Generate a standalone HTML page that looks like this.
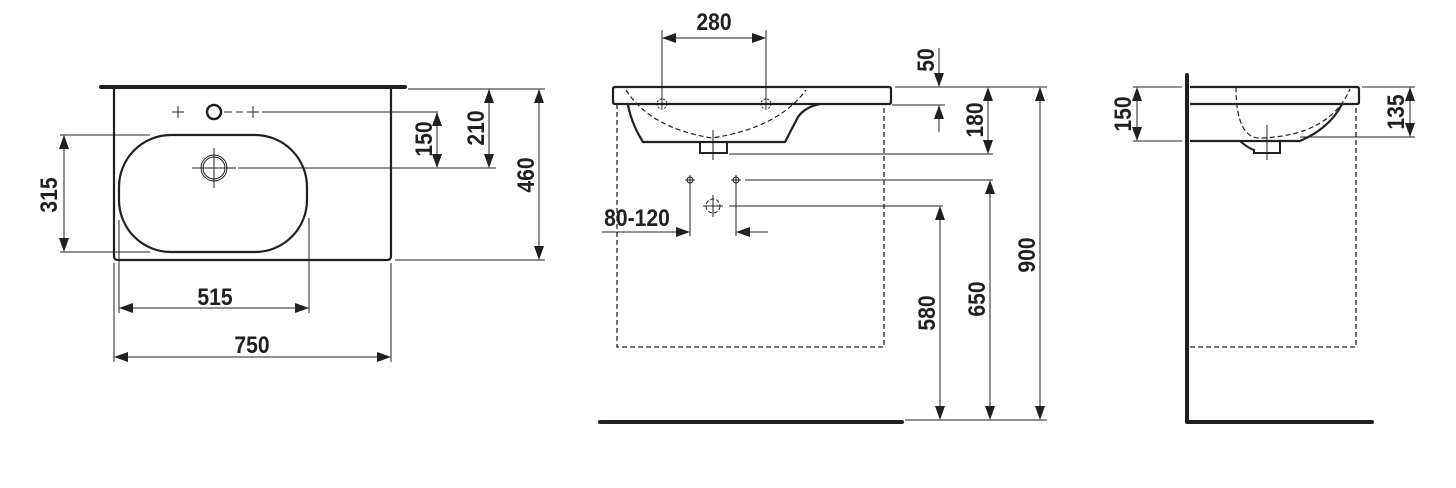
<!DOCTYPE html>
<html><head><meta charset="utf-8"><style>
html,body{margin:0;padding:0;background:#fff;}
svg{display:block;}
text{font-family:"Liberation Sans",sans-serif;font-weight:bold;font-size:24px;fill:#231f20;}
</style></head><body>
<svg width="1456" height="488" viewBox="0 0 1456 488" xmlns="http://www.w3.org/2000/svg">
<defs>
<marker id="a" markerUnits="userSpaceOnUse" markerWidth="14" markerHeight="10" refX="13" refY="5" orient="auto"><path d="M0,0 L14,5 L0,10 z" fill="#231f20"/></marker>
<marker id="b" markerUnits="userSpaceOnUse" markerWidth="14" markerHeight="10" refX="1" refY="5" orient="auto"><path d="M14,0 L0,5 L14,10 z" fill="#231f20"/></marker>
</defs>
<g stroke="#231f20" fill="none">
<!-- LEFT VIEW -->
<line x1="101" y1="87" x2="405" y2="87" stroke-width="4" stroke-linecap="round"/>
<path d="M114,88 V256 Q114,260 118,260 H387 Q391,260 391,256 V88" stroke-width="2.2"/>
<rect x="119" y="135" width="188" height="117" rx="52" ry="52" stroke-width="2.2"/>
<circle cx="214" cy="112" r="7" stroke-width="2.5"/>
<g stroke-width="1">
<line x1="172" y1="112" x2="184" y2="112"/><line x1="178" y1="106" x2="178" y2="118"/>
<line x1="247" y1="112" x2="259" y2="112"/><line x1="253" y1="106" x2="253" y2="118"/>
<line x1="224" y1="112" x2="232" y2="112"/><line x1="236" y1="112" x2="243" y2="112"/>
<line x1="262" y1="112" x2="438" y2="112"/>
<circle cx="214" cy="168" r="13"/><circle cx="214" cy="168" r="11"/>
<line x1="192" y1="168" x2="236" y2="168"/><line x1="214" y1="148" x2="214" y2="188"/>
<line x1="238" y1="168" x2="496" y2="168"/>
<line x1="60" y1="135" x2="150" y2="135"/><line x1="60" y1="252" x2="150" y2="252"/>
<line x1="64" y1="136" x2="64" y2="251" marker-start="url(#b)" marker-end="url(#a)"/>
<line x1="408" y1="89" x2="545" y2="89"/><line x1="395" y1="260" x2="545" y2="260"/>
<line x1="437" y1="113" x2="437" y2="167" marker-start="url(#b)" marker-end="url(#a)"/>
<line x1="489" y1="90" x2="489" y2="167" marker-start="url(#b)" marker-end="url(#a)"/>
<line x1="539" y1="90" x2="539" y2="259" marker-start="url(#b)" marker-end="url(#a)"/>
<line x1="119" y1="220" x2="119" y2="313"/><line x1="309" y1="218" x2="309" y2="313"/>
<line x1="120" y1="308" x2="308" y2="308" marker-start="url(#b)" marker-end="url(#a)"/>
<line x1="114" y1="263" x2="114" y2="362"/><line x1="391" y1="263" x2="391" y2="362"/>
<line x1="115" y1="357" x2="390" y2="357" marker-start="url(#b)" marker-end="url(#a)"/>
</g>
<!-- MIDDLE VIEW -->
<path d="M615,87 H889 Q891,87 891,89 V102 Q891,104 889,104 H615 Q613,104 613,102 V89 Q613,87 615,87 Z" stroke-width="2.2"/>
<path d="M628,105 Q632,125 643,142 H785 L798,117 Q805,107 820,104" stroke-width="2.2"/>
<path d="M700,143 V153 H727 V143" stroke-width="2"/>
<path d="M626,90 Q650,128 712,138 Q778,128 806,90" stroke-width="1.2" stroke-dasharray="5,3"/>
<path d="M617,104 V347 H884 V104" stroke-width="1.3" stroke-dasharray="5,3"/>
<line x1="600" y1="422" x2="902" y2="422" stroke-width="4" stroke-linecap="round"/>
<g stroke-width="1">
<line x1="662" y1="30" x2="662" y2="108"/><line x1="766" y1="30" x2="766" y2="108"/>
<line x1="663" y1="38" x2="765" y2="38" marker-start="url(#b)" marker-end="url(#a)"/>
<circle cx="662" cy="104" r="5" stroke-dasharray="2,1.5"/><circle cx="766" cy="104" r="5" stroke-dasharray="2,1.5"/>
<line x1="713" y1="130" x2="713" y2="160"/>
<line x1="895" y1="87" x2="1047" y2="87"/><line x1="892" y1="105" x2="945" y2="105"/>
<line x1="939" y1="48" x2="939" y2="86" marker-end="url(#a)"/>
<line x1="939" y1="132" x2="939" y2="106" marker-end="url(#a)"/>
<line x1="988" y1="88" x2="988" y2="153" marker-start="url(#b)" marker-end="url(#a)"/>
<line x1="729" y1="154" x2="993" y2="154"/>
<circle cx="690" cy="180" r="3"/><line x1="685" y1="180" x2="695" y2="180"/><line x1="690" y1="175" x2="690" y2="236"/>
<circle cx="736" cy="180" r="3"/><line x1="731" y1="180" x2="741" y2="180"/><line x1="736" y1="175" x2="736" y2="236"/>
<line x1="745" y1="180" x2="993" y2="180"/>
<circle cx="713" cy="206" r="7" stroke-dasharray="4,2"/><line x1="703" y1="206" x2="723" y2="206"/><line x1="713" y1="195" x2="713" y2="217"/>
<line x1="729" y1="206" x2="943" y2="206"/>
<line x1="602" y1="232" x2="689" y2="232" marker-end="url(#a)"/>
<line x1="768" y1="232" x2="737" y2="232" marker-end="url(#a)"/>
<line x1="905" y1="420" x2="1047" y2="420"/>
<line x1="940" y1="207" x2="940" y2="419" marker-start="url(#b)" marker-end="url(#a)"/>
<line x1="990" y1="181" x2="990" y2="419" marker-start="url(#b)" marker-end="url(#a)"/>
<line x1="1040" y1="88" x2="1040" y2="419" marker-start="url(#b)" marker-end="url(#a)"/>
</g>
<!-- RIGHT VIEW -->
<line x1="1187" y1="75" x2="1187" y2="421" stroke-width="4" stroke-linecap="round"/>
<line x1="1187" y1="422" x2="1372" y2="422" stroke-width="4" stroke-linecap="round"/>
<path d="M1190,87 H1357 Q1359,87 1359,89 V102 Q1359,104 1357,104 H1190" stroke-width="2.2"/>
<path d="M1190,141 H1300 Q1330,128 1342,104" stroke-width="2.2"/>
<path d="M1240,141 Q1248,148 1254,150 V153 H1280 V141" stroke-width="2"/>
<path d="M1236,87 Q1236,140 1262,138 Q1330,135 1350,89" stroke-width="1.2" stroke-dasharray="5,3"/>
<path d="M1190,347 H1356 V104" stroke-width="1.3" stroke-dasharray="5,3"/>
<g stroke-width="1">
<line x1="1267" y1="125" x2="1267" y2="160"/>
<line x1="1133" y1="87" x2="1182" y2="87"/><line x1="1133" y1="141" x2="1182" y2="141"/>
<line x1="1137" y1="88" x2="1137" y2="140" marker-start="url(#b)" marker-end="url(#a)"/>
<line x1="1362" y1="87" x2="1415" y2="87"/><line x1="1300" y1="137" x2="1415" y2="137"/>
<line x1="1410" y1="88" x2="1410" y2="136" marker-start="url(#b)" marker-end="url(#a)"/>
</g>
</g>
<!-- LABELS -->
<text transform="translate(215,305) scale(0.88,1)" text-anchor="middle">515</text>
<text transform="translate(252,353) scale(0.88,1)" text-anchor="middle">750</text>
<text transform="translate(57,195) rotate(-90) scale(0.88,1)" text-anchor="middle">315</text>
<text transform="translate(432,139) rotate(-90) scale(0.88,1)" text-anchor="middle">150</text>
<text transform="translate(484,128) rotate(-90) scale(0.88,1)" text-anchor="middle">210</text>
<text transform="translate(534,175) rotate(-90) scale(0.88,1)" text-anchor="middle">460</text>
<text transform="translate(714,30) scale(0.88,1)" text-anchor="middle">280</text>
<text transform="translate(637,226) scale(0.88,1)" text-anchor="middle">80-120</text>
<text transform="translate(934,60) rotate(-90) scale(0.88,1)" text-anchor="middle">50</text>
<text transform="translate(983,120) rotate(-90) scale(0.88,1)" text-anchor="middle">180</text>
<text transform="translate(935,313) rotate(-90) scale(0.88,1)" text-anchor="middle">580</text>
<text transform="translate(985,299) rotate(-90) scale(0.88,1)" text-anchor="middle">650</text>
<text transform="translate(1035,255) rotate(-90) scale(0.88,1)" text-anchor="middle">900</text>
<text transform="translate(1131,114) rotate(-90) scale(0.88,1)" text-anchor="middle">150</text>
<text transform="translate(1404,112) rotate(-90) scale(0.88,1)" text-anchor="middle">135</text>
</svg>
</body></html>
